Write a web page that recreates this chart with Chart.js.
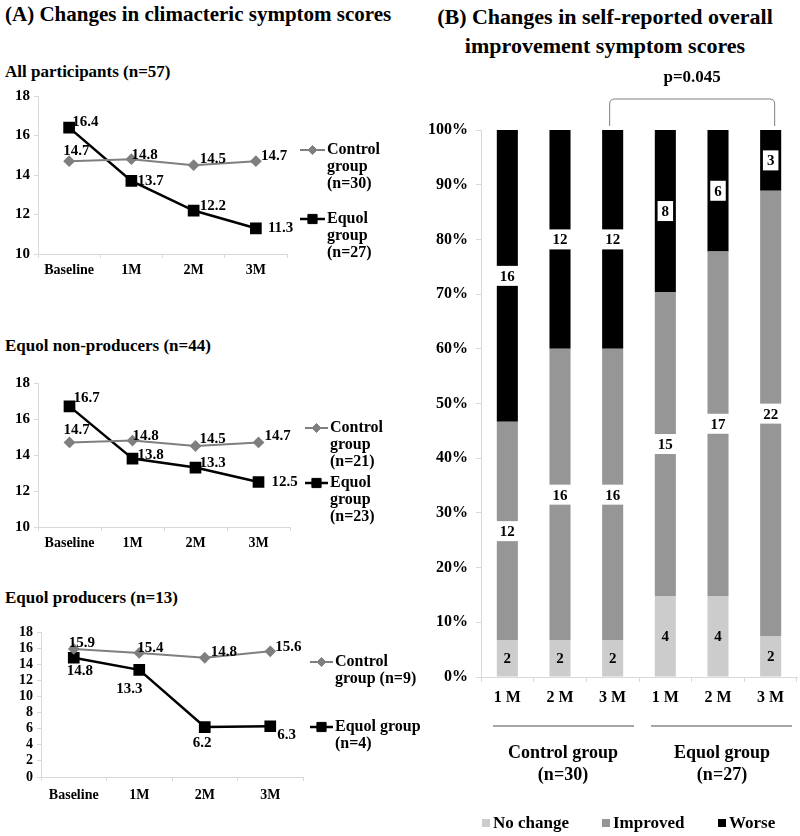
<!DOCTYPE html>
<html lang="en">
<head>
<meta charset="UTF-8">
<title>Climacteric symptom scores</title>
<script src="https://cdn.jsdelivr.net/npm/chart.js"></script>
<style>
  body {
    margin: 0;
    width: 800px;
    height: 836px;
    position: relative;
    background: #fff;
    font-family: 'Liberation Serif', 'Times New Roman', serif;
    font-weight: bold;
    color: #000;
    overflow: hidden;
  }
  .t { position: absolute; white-space: nowrap; line-height: 1; }
  canvas { position: absolute; }
</style>
</head>
<body>
<div class="t" style="left:5px; top:4px; font-size:21px;">(A) Changes in climacteric symptom scores</div>
<div class="t" style="left:405px; top:2px; width:400px; text-align:center; font-size:22px; line-height:29px;">(B) Changes in self-reported overall<br>improvement symptom scores</div>
<div class="t" style="left:5px; top:63px; font-size:17px;">All participants (n=57)</div>
<div class="t" style="left:5px; top:337px; font-size:17px;">Equol non-producers (n=44)</div>
<div class="t" style="left:5px; top:589px; font-size:17px;">Equol producers (n=13)</div>

<canvas id="c1" width="400" height="200" style="left:0; top:80px;"></canvas>
<canvas id="c2" width="400" height="190" style="left:0; top:370px;"></canvas>
<canvas id="c3" width="430" height="200" style="left:0; top:620px;"></canvas>
<canvas id="c4" width="400" height="776" style="left:400px; top:60px;"></canvas>

<script>
// ---- data ----
const timeLabels = ['Baseline', '1M', '2M', '3M'];
const allControl = [14.7, 14.8, 14.5, 14.7];
const allEquol = [16.4, 13.7, 12.2, 11.3];
const nonControl = [14.7, 14.8, 14.5, 14.7];
const nonEquol = [16.7, 13.8, 13.3, 12.5];
const prodControl = [15.9, 15.4, 14.8, 15.6];
const prodEquol = [14.8, 13.3, 6.2, 6.3];

const barLabels = ['1 M', '2 M', '3 M', '1 M', '2 M', '3 M'];
const noChange = [2, 2, 2, 4, 4, 2];
const improved = [12, 16, 16, 15, 17, 22];
const worse = [16, 12, 12, 8, 6, 3];

const SERIF = "'Liberation Serif', 'Times New Roman', serif";
const GRAY = '#7f7f7f';
const AXIS = '#d9d9d9';

// point value labels for the line charts
const pointLabels = {
  id: 'pointLabels',
  afterDatasetsDraw(chart, args, opts) {
    const ctx = chart.ctx;
    ctx.save();
    ctx.font = 'bold 15px ' + SERIF;
    ctx.fillStyle = '#000';
    ctx.textAlign = 'left';
    ctx.textBaseline = 'middle';
    chart.data.datasets.forEach((ds, di) => {
      const meta = chart.getDatasetMeta(di);
      meta.data.forEach((pt, i) => {
        const off = opts.offsets[di][i];
        ctx.fillText(ds.data[i].toFixed(1), pt.x + off[0], pt.y + off[1]);
      });
    });
    ctx.restore();
  }
};

// side legend: line sample + marker + wrapped text
const sideLegend = {
  id: 'sideLegend',
  afterDraw(chart, args, opts) {
    const ctx = chart.ctx;
    ctx.save();
    opts.items.forEach((it, di) => {
      const ds = chart.data.datasets[di];
      ctx.strokeStyle = ds.borderColor;
      ctx.lineWidth = ds.borderWidth;
      ctx.beginPath();
      ctx.moveTo(opts.x0, it.y);
      ctx.lineTo(opts.x1, it.y);
      ctx.stroke();
      ctx.fillStyle = ds.pointBackgroundColor;
      ctx.strokeStyle = ds.pointBackgroundColor;
      ctx.lineWidth = 1;
      Chart.helpers.drawPoint(ctx, {pointStyle: ds.pointStyle, radius: ds.pointRadius, borderWidth: 1}, (opts.x0 + opts.x1) / 2, it.y);
      ctx.fillStyle = '#000';
      ctx.font = 'bold 16px ' + SERIF;
      ctx.textAlign = 'left';
      ctx.textBaseline = 'middle';
      it.lines.forEach((ln, k) => ctx.fillText(ln, opts.x1 + 2, it.y + k * 17));
    });
    ctx.restore();
  }
};

function lineChart(id, control, equol, o) {
  return new Chart(document.getElementById(id), {
    type: 'line',
    data: {
      labels: timeLabels,
      datasets: [
        {
          data: control, borderColor: GRAY, backgroundColor: GRAY, borderWidth: 2,
          pointStyle: 'rectRot', pointRadius: 4.5, pointBackgroundColor: GRAY, pointBorderColor: GRAY
        },
        {
          data: equol, borderColor: '#000', backgroundColor: '#000', borderWidth: 2.5,
          pointStyle: 'rect', pointRadius: 6.5, pointBackgroundColor: '#000', pointBorderColor: '#000'
        }
      ]
    },
    options: {
      responsive: false,
      animation: false,
      layout: { padding: { top: o.top, right: o.right, left: 0, bottom: 0 } },
      plugins: {
        legend: { display: false },
        tooltip: { enabled: false },
        pointLabels: { offsets: o.offsets },
        sideLegend: o.legend
      },
      scales: {
        x: {
          offset: true,
          afterFit: s => { s.height = o.xh; },
          border: { color: AXIS, width: 1 },
          grid: { offset: true, drawOnChartArea: false, tickLength: 4, color: AXIS },
          ticks: { color: '#000', padding: o.xpad, font: { family: SERIF, weight: 'bold', size: 14 } }
        },
        y: {
          min: o.min, max: 18,
          afterFit: s => { s.width = o.yw; },
          border: { color: AXIS, width: 1 },
          grid: { drawOnChartArea: false, tickLength: 4, color: AXIS },
          ticks: {
            stepSize: 2, autoSkip: false, color: '#000', padding: 4,
            font: { family: SERIF, weight: 'bold', size: o.yfont, lineHeight: 1 }
          }
        }
      }
    },
    plugins: [pointLabels, sideLegend]
  });
}

lineChart('c1', allControl, allEquol, {
  top: 16, right: 113, xh: 26, yw: 38, min: 10, yfont: 15, xpad: 4,
  offsets: [
    [[-6, -10], [0, -4], [6, -6], [5, -5]],
    [[3, -5], [6, 0], [6, -4], [12, 0]]
  ],
  legend: {
    x0: 300, x1: 325,
    items: [
      { y: 70, lines: ['Control', 'group', '(n=30)'] },
      { y: 139, lines: ['Equol', 'group', '(n=27)'] }
    ]
  }
});

lineChart('c2', nonControl, nonEquol, {
  top: 13, right: 110, xh: 33, yw: 38, min: 10, yfont: 15, xpad: 4,
  offsets: [
    [[-6, -12], [0, -4], [4, -7], [6, -6]],
    [[4, -8], [5, -3], [4, -4], [13, 0]]
  ],
  legend: {
    x0: 305, x1: 328,
    items: [
      { y: 58, lines: ['Control', 'group', '(n=21)'] },
      { y: 113, lines: ['Equol', 'group', '(n=23)'] }
    ]
  }
});

lineChart('c3', prodControl, prodEquol, {
  top: 12, right: 127, xh: 43, yw: 41, min: 0, yfont: 14, xpad: 6,
  offsets: [
    [[-5, -6], [-2, -5], [6, -6], [5, -4]],
    [[-7, 13], [-23, 19], [-12, 16], [7, 9]]
  ],
  legend: {
    x0: 310, x1: 333,
    items: [
      { y: 42, lines: ['Control', 'group (n=9)'] },
      { y: 107, lines: ['Equol group', '(n=4)'] }
    ]
  }
});

// ---- stacked 100% bar chart ----
const totals = noChange.map((v, i) => v + improved[i] + worse[i]);
const pct = arr => arr.map((v, i) => v / totals[i] * 100);

const barExtras = {
  id: 'barExtras',
  afterDatasetsDraw(chart) {
    const ctx = chart.ctx;
    const counts = [noChange, improved, worse];
    ctx.save();
    ctx.font = 'bold 15px ' + SERIF;
    ctx.textAlign = 'center';
    ctx.textBaseline = 'middle';
    counts.forEach((arr, di) => {
      chart.getDatasetMeta(di).data.forEach((el, i) => {
        const p = el.getProps(['x', 'y', 'base'], true);
        const cy = (p.y + p.base) / 2;
        const txt = String(arr[i]);
        const w = ctx.measureText(txt).width + 8;
        if (di > 0) {
          ctx.fillStyle = '#fff';
          ctx.fillRect(p.x - w / 2, cy - 10, w, 20);
        }
        ctx.fillStyle = '#000';
        ctx.fillText(txt, p.x, cy + 1);
      });
    });
    ctx.restore();
  },
  afterDraw(chart) {
    const ctx = chart.ctx;
    const x = chart.scales.x;
    const half = (x.getPixelForValue(1) - x.getPixelForValue(0)) / 2;
    ctx.save();
    // group lines
    ctx.strokeStyle = '#a6a6a6';
    ctx.lineWidth = 2;
    [[0, 2], [3, 5]].forEach(([a, b]) => {
      ctx.beginPath();
      ctx.moveTo(x.getPixelForValue(a) - half + 12, 666);
      ctx.lineTo(x.getPixelForValue(b) + half - 5, 666);
      ctx.stroke();
    });
    ctx.fillStyle = '#000';
    ctx.textAlign = 'center';
    ctx.textBaseline = 'middle';
    ctx.font = 'bold 18px ' + SERIF;
    const c1 = (x.getPixelForValue(0) + x.getPixelForValue(2)) / 2 + 3;
    const c2 = (x.getPixelForValue(3) + x.getPixelForValue(5)) / 2 + 4;
    ctx.fillText('Control group', c1, 693);
    ctx.fillText('(n=30)', c1, 715);
    ctx.fillText('Equol group', c2, 693);
    ctx.fillText('(n=27)', c2, 715);

    // legend
    const items = [['No change', '#cccccc', 82], ['Improved', '#969696', 202], ['Worse', '#000000', 318]];
    ctx.font = 'bold 17px ' + SERIF;
    ctx.textAlign = 'left';
    items.forEach(([t, c, lx]) => {
      ctx.fillStyle = c;
      ctx.fillRect(lx, 759, 8, 8);
      ctx.fillStyle = '#000';
      ctx.fillText(t, lx + 11, 764);
    });

    // significance bracket
    const xa = chart.getDatasetMeta(2).data[2].x - 3;
    const xb = chart.getDatasetMeta(2).data[5].x + 4;
    const r = 5;
    ctx.strokeStyle = '#7f7f7f';
    ctx.lineWidth = 1;
    ctx.beginPath();
    ctx.moveTo(xa, 66);
    ctx.lineTo(xa, 39 + r);
    ctx.quadraticCurveTo(xa, 39, xa + r, 39);
    ctx.lineTo(xb - r, 39);
    ctx.quadraticCurveTo(xb, 39, xb, 39 + r);
    ctx.lineTo(xb, 66);
    ctx.stroke();
    ctx.textAlign = 'center';
    ctx.fillStyle = '#000';
    ctx.fillText('p=0.045', (xa + xb) / 2, 18);
    ctx.restore();
  }
};

new Chart(document.getElementById('c4'), {
  type: 'bar',
  data: {
    labels: barLabels,
    datasets: [
      { label: 'No change', data: pct(noChange), backgroundColor: '#cccccc' },
      { label: 'Improved', data: pct(improved), backgroundColor: '#969696' },
      { label: 'Worse', data: pct(worse), backgroundColor: '#000000' }
    ]
  },
  options: {
    responsive: false,
    animation: false,
    datasets: { bar: { categoryPercentage: 1, barPercentage: 0.4 } },
    layout: { padding: { top: 70, right: 3, left: 0, bottom: 0 } },
    plugins: { legend: { display: false }, tooltip: { enabled: false } },
    scales: {
      x: {
        stacked: true,
        afterFit: s => { s.height = 159; },
        border: { color: AXIS, width: 1 },
        grid: { offset: true, drawOnChartArea: false, tickLength: 5, color: AXIS },
        ticks: { color: '#000', padding: 6, font: { family: SERIF, weight: 'bold', size: 16 } }
      },
      y: {
        stacked: true, min: 0, max: 100,
        afterFit: s => { s.width = 81; },
        border: { color: AXIS, width: 1 },
        grid: { drawOnChartArea: false, tickLength: 5, color: AXIS },
        ticks: {
          stepSize: 10, color: '#000', padding: 8,
          font: { family: SERIF, weight: 'bold', size: 16 },
          callback: v => v + '%'
        }
      }
    }
  },
  plugins: [barExtras]
});
</script>
</body>
</html>
